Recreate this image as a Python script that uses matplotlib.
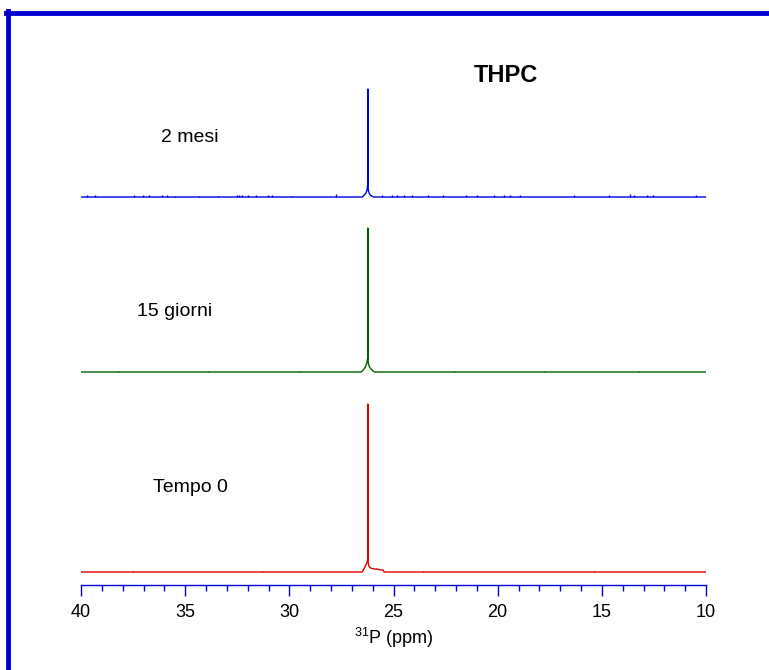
import matplotlib
matplotlib.use("Agg")
import matplotlib.pyplot as plt
from matplotlib.lines import Line2D
from matplotlib.ticker import MultipleLocator

plt.rcParams["font.family"] = ["Liberation Sans", "DejaVu Sans"]
plt.rcParams["mathtext.default"] = "regular"

# spectra: ppm positions and intensities (arbitrary units, baseline = 0)
ppm_2mesi = [40.0, 26.50, 26.40, 26.32, 26.27, 26.24, 26.23, 26.22, 26.20, 26.17, 26.12, 26.05, 25.95, 10.0]
int_2mesi = [0, 0, 2, 4, 7, 12, 108, 10, 6, 4, 2, 1, 0, 0]

ppm_15giorni = [40.0, 26.55, 26.45, 26.35, 26.28, 26.24, 26.23, 26.22, 26.20, 26.15, 26.08, 25.98, 25.90, 10.0]
int_15giorni = [0, 0, 2, 5, 9, 14, 144, 12, 8, 5, 3, 1, 0, 0]

ppm_tempo0 = [40.0, 26.50, 26.42, 26.35, 26.28, 26.24, 26.23, 26.22, 26.18, 26.10, 25.95, 25.80, 25.60, 25.50, 25.45, 10.0]
int_tempo0 = [0, 0, 3, 6, 9, 12, 168, 10, 6, 4, 3, 3, 2, 2, 0, 0]

# small noise spikes on the baselines
spikes_2mesi_ppm = [39.71, 39.33, 37.46, 37.02, 36.74, 36.11, 35.87, 35.49, 34.34, 33.42,
                    32.51, 32.42, 32.27, 31.98, 31.60, 31.02, 30.83, 29.92, 27.76, 25.57,
                    25.07, 24.85, 24.50, 24.11, 23.34, 22.62, 21.52, 20.99, 20.18, 19.70,
                    19.41, 18.93, 16.34, 14.66, 13.65, 13.46, 12.83, 12.54, 10.48]
spikes_2mesi_h = [2, 2, 2, 2, 2, 2, 2, 1, 1, 1,
                  2, 2, 2, 2, 2, 2, 2, 1, 3, 2,
                  2, 2, 2, 2, 2, 2, 2, 2, 2, 2,
                  2, 2, 2, 2, 3, 2, 2, 2, 2]
spikes_15giorni_ppm = [38.2, 33.9, 29.5, 22.1, 17.8, 13.2]
spikes_15giorni_h = [1, 1, 1, 1, 1, 1]
spikes_tempo0_ppm = [37.5, 31.3, 23.6, 15.4]
spikes_tempo0_h = [1, 1, 1, 1]

offsets = [375, 200, 0]
labels = ["2 mesi", "15 giorni", "Tempo 0"]
colors = ["#0000E0", "#006000", "#E00000"]
label_pos = [(34.77, 435), (35.49, 260), (34.77, 85)]

fig = plt.figure(figsize=(7.69, 6.70), dpi=100)
ax = fig.add_axes([81 / 769, 85 / 670, 625 / 769, 525 / 670])

spectra = [(ppm_2mesi, int_2mesi, spikes_2mesi_ppm, spikes_2mesi_h),
           (ppm_15giorni, int_15giorni, spikes_15giorni_ppm, spikes_15giorni_h),
           (ppm_tempo0, int_tempo0, spikes_tempo0_ppm, spikes_tempo0_h)]

for (p, y, sp, sh), off, col, lab, pos in zip(spectra, offsets, colors, labels, label_pos):
    ax.plot(p, [v + off for v in y], color=col, linewidth=1.0)
    ax.vlines(sp, off, [h + off for h in sh], color=col, linewidth=1.0)
    ax.text(pos[0], pos[1], lab, fontsize=14, ha="center", va="center")

ax.text(19.6, 496, "THPC", fontsize=17, fontweight="bold", ha="center", va="center")

ax.set_xlim(40, 10)
ax.set_ylim(-13, 512)
ax.set_xticks([40, 35, 30, 25, 20, 15, 10])
ax.xaxis.set_minor_locator(MultipleLocator(1))
ax.set_yticks([])
for s in ["top", "right", "left"]:
    ax.spines[s].set_visible(False)
ax.spines["bottom"].set_color("#0000E0")
ax.spines["bottom"].set_linewidth(1.0)
ax.tick_params(axis="x", which="major", direction="out", length=8, width=1,
               color="#0000E0", labelsize=13, pad=6)
ax.tick_params(axis="x", which="minor", direction="out", length=4, width=1, color="#0000E0")
ax.set_xlabel("$^{31}$P (ppm)", fontsize=13, labelpad=3)

# blue frame on top and left edge
fig.add_artist(Line2D([6 / 769, 1.0], [1 - 13 / 670, 1 - 13 / 670], color="#0000CC",
                      linewidth=3.5, transform=fig.transFigure))
fig.add_artist(Line2D([8 / 769, 8 / 769], [0, 1 - 11 / 670], color="#0000CC",
                      linewidth=3.5, transform=fig.transFigure))

fig.savefig("out.png", dpi=100)
